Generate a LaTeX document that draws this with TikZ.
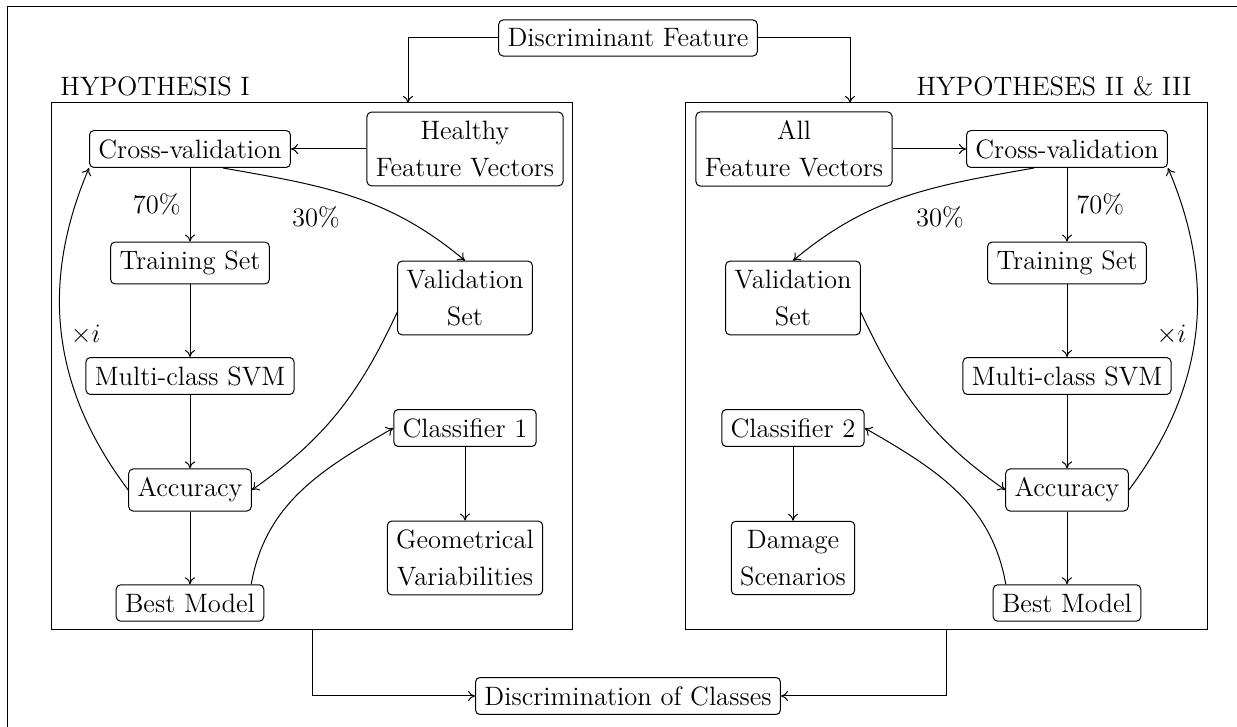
\documentclass[tikz,border=0pt,12pt]{standalone}
\usetikzlibrary{fit,arrows.meta}
\begin{document}
\begin{tikzpicture}[x=0.4515pt, y=0.4515pt,
  font=\fontsize{12}{14.5}\selectfont, >={To[length=3.2pt,width=4.6pt]}, line width=0.45pt,
  blk/.style={draw, rounded corners=2pt, align=center},
  grp/.style={draw, inner sep=0pt},
  hdr/.style={inner sep=0pt}]
\useasboundingbox (0,0) rectangle (1237,727);
% outer frame
\draw (7,-20) rectangle (1260,720);

% top and bottom nodes
\node[blk] (feat) at (628,689) {Discriminant Feature};
\node[blk] (disc) at (628,31) {Discrimination of Classes};

% group frames
\coordinate (gL1) at (51,624); \coordinate (gL2) at (572,97);
\coordinate (gR1) at (685,624); \coordinate (gR2) at (1207,97);
\node[grp, fit=(gL1)(gL2)] (grpL) {};
\node[grp, fit=(gR1)(gR2)] (grpR) {};
\node[hdr, anchor=base west] (hypL) at (60,631) {HYPOTHESIS I};
\node[hdr, anchor=base east] (hypR) at (1192,631) {HYPOTHESES II \& III};

% left group
\node[blk] (healthy) at (465,578) {Healthy\\[2.2pt]Feature Vectors};
\node[blk] (crossL) at (190,578) {Cross-validation};
\node[blk] (trainL) at (190,464) {Training Set};
\node[blk] (svmL) at (190,351) {Multi-class SVM};
\node[blk] (accL) at (190,237) {Accuracy};
\node[blk] (bestL) at (190,124) {Best Model};
\node[blk] (validL) at (465,429) {Validation\\[2.2pt]Set};
\node[blk] (clf1) at (465,299) {Classifier 1};
\node[blk] (geom) at (465,169) {Geometrical\\[2.2pt]Variabilities};

% right group
\node[blk] (all) at (794,578) {All\\[2.2pt]Feature Vectors};
\node[blk] (crossR) at (1067,578) {Cross-validation};
\node[blk] (trainR) at (1067,464) {Training Set};
\node[blk] (svmR) at (1067,351) {Multi-class SVM};
\node[blk] (accR) at (1067,237) {Accuracy};
\node[blk] (bestR) at (1067,124) {Best Model};
\node[blk] (validR) at (793,429) {Validation\\[2.2pt]Set};
\node[blk] (clf2) at (793,299) {Classifier 2};
\node[blk] (damage) at (793,169) {Damage\\[2.2pt]Scenarios};

% feature input and final output
\coordinate (inL) at (408,624);
\coordinate (inR) at (850,624);
\coordinate (outL) at (312,97);
\coordinate (outR) at (946,97);
\draw[->] (feat.west) -| (inL);
\draw[->] (feat.east) -| (inR);
\draw[->] (outL) |- (disc.west);
\draw[->] (outR) |- (disc.east);

% left flow
\draw[->] (healthy.west |- crossL) -- (crossL.east);
\draw[->] (crossL) -- node[left] {70\%} (trainL);
\draw[->] (trainL) -- (svmL);
\draw[->] (svmL) -- (accL);
\draw[->] (accL) -- (bestL);
\draw[->] (clf1) -- (geom);
\draw[->] (crossL.-30) to[out=-10, in=140] (validL.north);
\node (pctL) at (316,510) {30\%};
\draw[->] (validL.192) to[out=245, in=35] (accL.east);
\draw[->] (accL.west) to[bend left=30] node[right] {$\times i$} (crossL.south west);
\draw[->] (bestL.17) to[out=80, in=210] (clf1.west);

% right flow
\draw[->] (all.east) -- (crossR.west);
\draw[->] (crossR) -- node[right] {70\%} (trainR);
\draw[->] (trainR) -- (svmR);
\draw[->] (svmR) -- (accR);
\draw[->] (accR) -- (bestR);
\draw[->] (clf2) -- (damage);
\draw[->] (crossR.210) to[out=190, in=40] (validR.north);
\node (pctR) at (940,510) {30\%};
\draw[->] (validR.-12) to[out=295, in=145] (accR.west);
\draw[->] (accR.east) to[bend right=30] node[left] {$\times i$} (crossR.south east);
\draw[->] (bestR.163) to[out=100, in=-30] (clf2.east);
\end{tikzpicture}
\end{document}
